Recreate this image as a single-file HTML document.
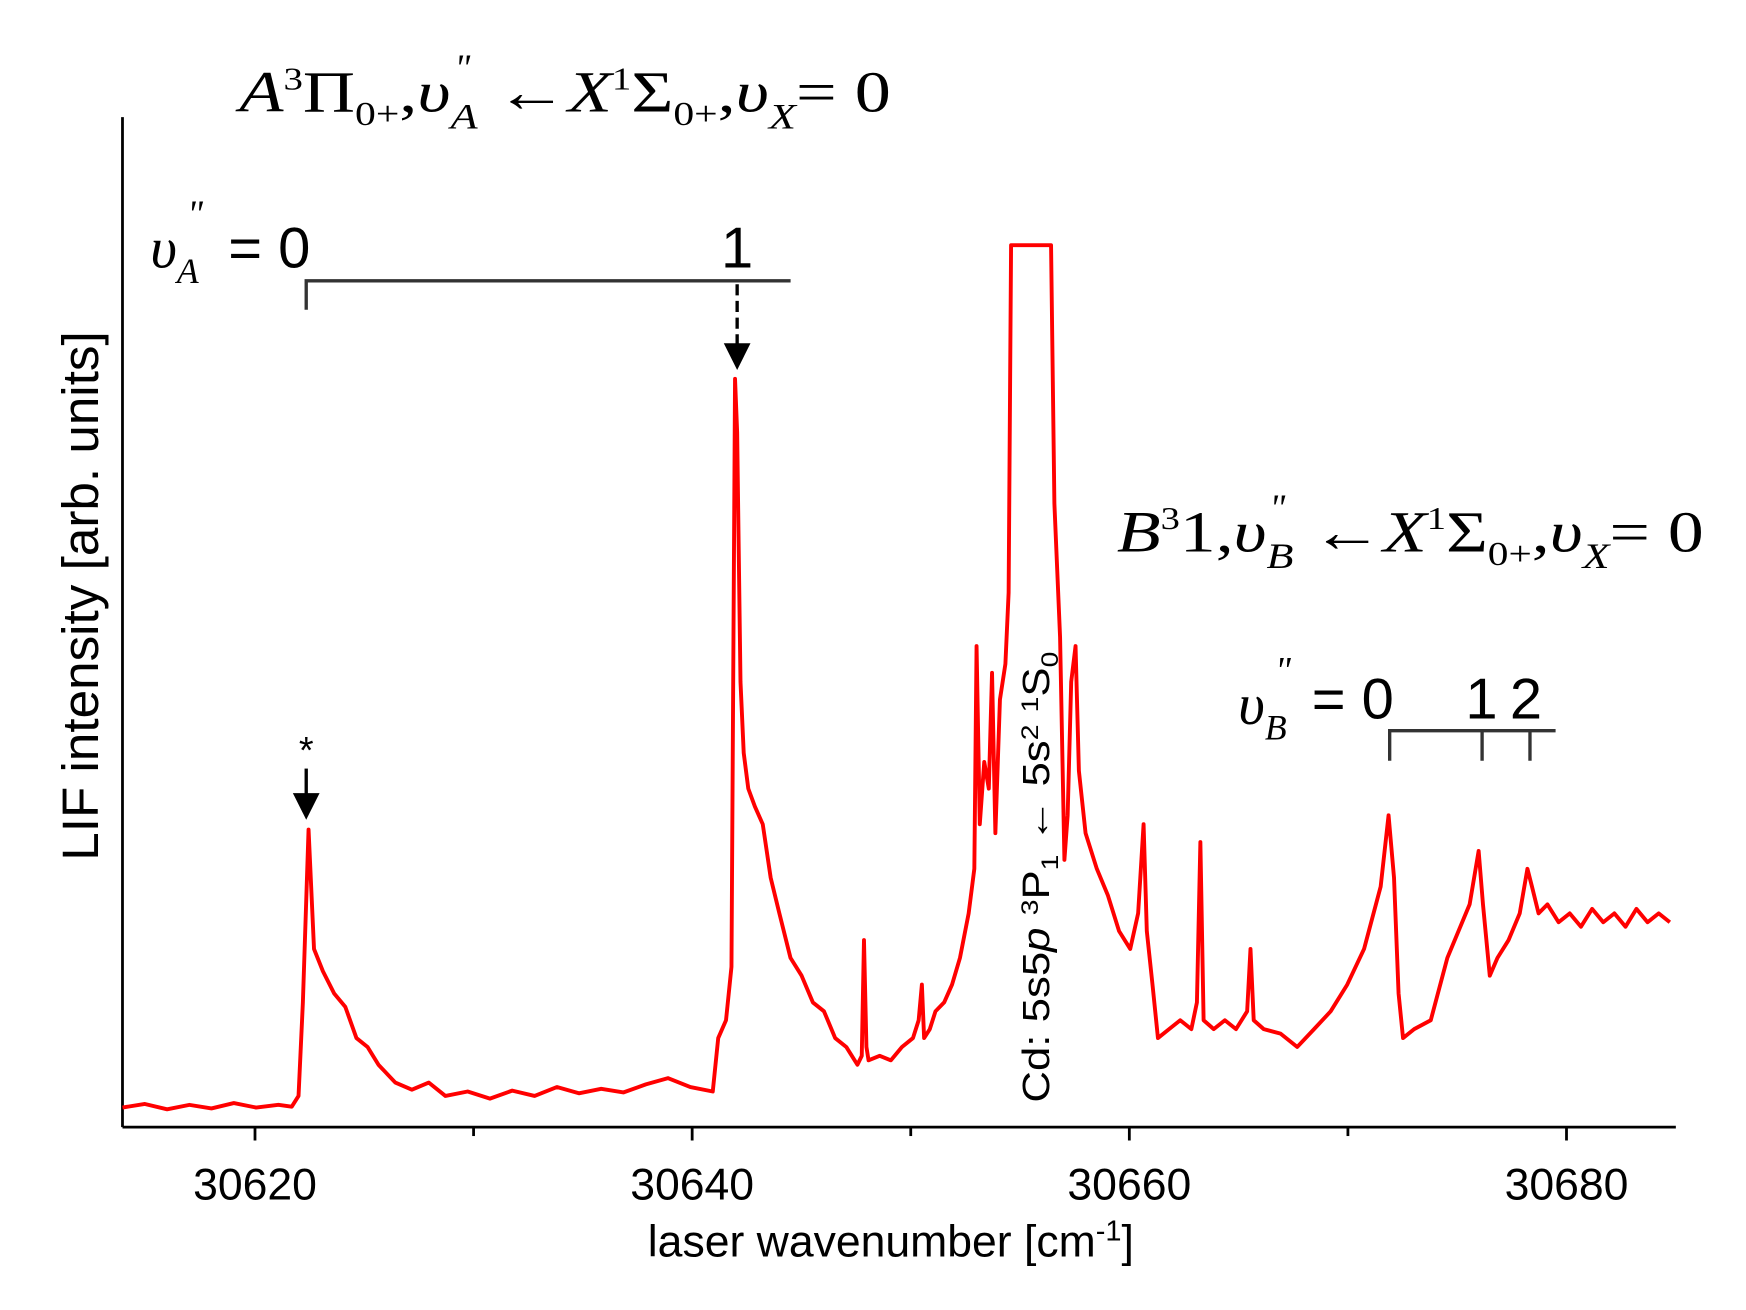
<!DOCTYPE html>
<html><head><meta charset="utf-8"><style>
html,body{margin:0;padding:0;background:#fff;}
svg{display:block;}
.serif{font-family:"Liberation Serif",serif;}
.sans{font-family:"Liberation Sans",sans-serif;}
</style></head><body>
<svg id="chart" width="1746" height="1310" viewBox="0 0 1568 1176" xmlns="http://www.w3.org/2000/svg">
<rect width="1568" height="1176" fill="#fff"/>
<g id="axes" stroke="#000" stroke-width="2.5" fill="none">
  <line x1="110" y1="105" x2="110" y2="1012"/>
  <line x1="110" y1="1012" x2="1505" y2="1012"/>
</g>
<g id="ticks"></g>
<text class="sans" x="800" y="1128" font-size="40" text-anchor="middle">laser wavenumber [cm<tspan dy="-14" font-size="26">-1</tspan><tspan dy="14">]</tspan></text>
<text class="sans" transform="translate(88,535) rotate(-90)" font-size="46" text-anchor="middle">LIF intensity [arb. units]</text>
<polyline id="spectrum" fill="none" stroke="#ff0000" stroke-width="3.5" stroke-linejoin="round"/>
<text class="serif" x="215" y="100" font-size="52" textLength="585" lengthAdjust="spacingAndGlyphs"><tspan font-style="italic">A</tspan><tspan dy="-20" font-size="28">3</tspan><tspan dy="20">Π</tspan><tspan dy="12" font-size="30">0+</tspan><tspan dy="-12">,</tspan><tspan font-style="italic">υ</tspan><tspan dy="15" font-size="32" font-style="italic">A</tspan><tspan dy="-15"> ←</tspan><tspan font-style="italic">X</tspan><tspan dy="-20" font-size="28">1</tspan><tspan dy="20">Σ</tspan><tspan dy="12" font-size="30">0+</tspan><tspan dy="-12">,</tspan><tspan font-style="italic">υ</tspan><tspan dy="15" font-size="32" font-style="italic">X</tspan><tspan dy="-15">= 0</tspan></text>
<text class="serif" x="408" y="72" font-size="34" font-style="italic">"</text>
<text class="serif" x="1003" y="495" font-size="52" textLength="527" lengthAdjust="spacingAndGlyphs"><tspan font-style="italic">B</tspan><tspan dy="-20" font-size="28">3</tspan><tspan dy="20">1,</tspan><tspan font-style="italic">υ</tspan><tspan dy="15" font-size="32" font-style="italic">B</tspan><tspan dy="-15"> ←</tspan><tspan font-style="italic">X</tspan><tspan dy="-20" font-size="28">1</tspan><tspan dy="20">Σ</tspan><tspan dy="12" font-size="30">0+</tspan><tspan dy="-12">,</tspan><tspan font-style="italic">υ</tspan><tspan dy="15" font-size="32" font-style="italic">X</tspan><tspan dy="-15">= 0</tspan></text>
<text class="serif" x="1140" y="467" font-size="34" font-style="italic">"</text>
<g>
  <text class="serif" x="135" y="240" font-size="52" font-style="italic">υ<tspan dy="14" font-size="32">A</tspan></text>
  <text class="serif" x="168" y="203" font-size="34" font-style="italic">"</text>
  <text class="sans" x="205" y="240" font-size="52">= 0</text>
  <text class="sans" x="662" y="240" font-size="52" text-anchor="middle">1</text>
  <path d="M275 278 V252 H710" stroke="#333" stroke-width="3" fill="none"/>
  <line x1="662" y1="255" x2="662" y2="312" stroke="#000" stroke-width="3" stroke-dasharray="10,5"/>
  <polygon points="650,308 674,308 662,332" fill="#000"/>
</g>
<g>
  <text class="sans" x="275" y="685" font-size="34" text-anchor="middle">*</text>
  <line x1="275" y1="690" x2="275" y2="715" stroke="#000" stroke-width="3"/>
  <polygon points="263,712 287,712 275,736" fill="#000"/>
</g>
<g>
  <text class="serif" x="1112" y="650" font-size="52" font-style="italic">υ<tspan dy="14" font-size="32">B</tspan></text>
  <text class="serif" x="1145" y="613" font-size="34" font-style="italic">"</text>
  <text class="sans" x="1178" y="645" font-size="52">= 0</text>
  <text class="sans" x="1316" y="645" font-size="52">1</text>
  <text class="sans" x="1356" y="645" font-size="52">2</text>
  <path d="M1248 683 V656 H1397 M1331 656 V683 M1374 656 V683" stroke="#333" stroke-width="3" fill="none"/>
</g>
<text class="sans" transform="translate(942,990) rotate(-90)" font-size="34" textLength="405" lengthAdjust="spacingAndGlyphs">Cd: 5s5<tspan font-style="italic">p</tspan> <tspan dy="-10" font-size="22">3</tspan><tspan dy="10">P</tspan><tspan dy="8" font-size="22">1</tspan><tspan dy="-8"> ← 5s</tspan><tspan dy="-10" font-size="22">2</tspan><tspan dy="10"> </tspan><tspan dy="-10" font-size="22">1</tspan><tspan dy="10">S</tspan><tspan dy="8" font-size="22">0</tspan></text>
<script>
const tickValues=[30620,30630,30640,30650,30660,30670,30680];
const tickLabels=["30620","","30640","","30660","","30680"];
const wavenumberOffsets=[13.94,14.96,15.98,17.0,18.01,19.03,20.05,21.07,21.68,21.99,22.19,22.45,22.70,23.11,23.62,24.13,24.64,25.15,25.65,26.42,27.18,27.95,28.71,29.73,30.75,31.77,32.79,33.81,34.82,35.84,36.86,37.88,38.90,39.92,40.94,41.19,41.55,41.80,41.96,42.06,42.21,42.36,42.57,42.87,43.23,43.59,43.99,44.50,45.01,45.52,46.03,46.54,47.05,47.56,47.76,47.86,47.97,48.07,48.58,49.09,49.60,50.10,50.36,50.51,50.61,50.87,51.13,51.53,51.89,52.25,52.65,52.91,53.01,53.16,53.36,53.57,53.72,53.87,54.08,54.33,54.48,54.59,56.42,56.57,56.83,57.03,57.18,57.34,57.54,57.69,58.00,58.51,59.02,59.53,60.04,60.40,60.65,60.80,61.06,61.31,61.82,62.33,62.84,63.09,63.25,63.40,63.86,64.37,64.88,65.39,65.54,65.69,66.15,66.92,67.68,68.45,69.21,69.97,70.74,71.50,71.86,72.11,72.32,72.52,73.03,73.79,74.55,75.06,75.57,75.98,76.18,76.49,76.84,77.35,77.86,78.21,78.42,78.72,79.13,79.64,80.15,80.66,81.17,81.68,82.19,82.70,83.20,83.71,84.22,84.73];
const intensities=[2.2,2.6,2.0,2.5,2.1,2.7,2.2,2.5,2.3,3.5,14,33.4,20,17.5,15,13.5,10,9,7,5,4.2,5,3.5,4,3.2,4.1,3.5,4.5,3.8,4.3,3.9,4.8,5.5,4.5,4,10,12,18,84,78,50,42,38,36,34,28,24,19,17,14,13,10,9,7,8,21,9,7.5,8,7.5,9,10,12,16,10,11,13,14,16,19,24,29,54,34,41,38,51,33,48,52,60,99,99,70,55,30,35,50,54,40,33,29,26,22,20,24,34,22,16,10,11,12,11,14,32,12,11,12,11,13,20,12,11,10.5,9,11,13,16,20,27,35,28,15,10,11,12,19,22,25,31,25,17,19,21,24,29,27,24,25,23,24,22.5,24.5,23,24,22.5,24.5,23,24,23];
const BASE=30600;
function xs(w){return 229+(w-30620)*19.63;}
function ys(v){return 1012-v*8;}
const NS="http://www.w3.org/2000/svg";
document.getElementById('spectrum').setAttribute('points',wavenumberOffsets.map((o,i)=>xs(BASE+o).toFixed(1)+","+ys(intensities[i]).toFixed(1)).join(" "));
const tg=document.getElementById('ticks');
tickValues.forEach((t,i)=>{
  const l=document.createElementNS(NS,'line');
  
  
  l.setAttribute('x1',xs(t));l.setAttribute('x2',xs(t));
  l.setAttribute('y1',1012);l.setAttribute('y2',tickLabels[i]?1024:1020);
  l.setAttribute('stroke','#000');l.setAttribute('stroke-width','2.5');
  tg.appendChild(l);
  if(tickLabels[i]){
    const tx=document.createElementNS(NS,'text');
    
    
    tx.setAttribute('x',xs(t));tx.setAttribute('y',1077);
    tx.setAttribute('text-anchor','middle');
    tx.setAttribute('font-size','40');
    tx.setAttribute('font-family','"Liberation Sans",sans-serif');
    tx.textContent=tickLabels[i];
    tg.appendChild(tx);
  }
});
</script>
</svg>
</body></html>
